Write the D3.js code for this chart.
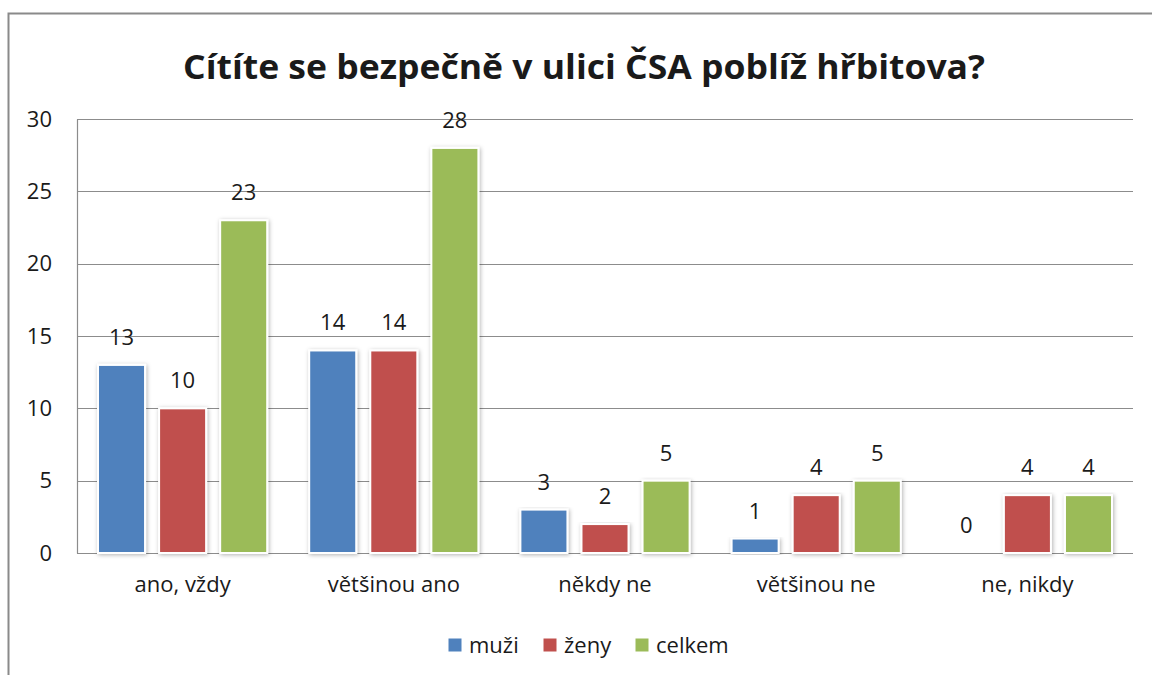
<!DOCTYPE html>
<html>
<head>
<meta charset="utf-8">
<script src="https://cdn.jsdelivr.net/npm/d3@7"></script>
<style>
  body { margin: 0; background: #fff; }
  text { font-family: "Open Sans", Lato, sans-serif; fill: #1a1a1a; }
</style>
</head>
<body>
<div id="chart"></div>
<script>
// odpovědi a série
let categories = ["ano, vždy", "většinou ano", "někdy ne", "většinou ne", "ne, nikdy"]
let seriesNames = ["muži", "ženy", "celkem"]
let muzi = [13, 14, 3, 1, 0]
let zeny = [10, 14, 2, 4, 4]
let celkem = [23, 28, 5, 5, 4]
let yTicks = [0, 5, 10, 15, 20, 25, 30]
let colors = ["#4F81BD", "#C0504D", "#9BBB59"]

let W = 1152, H = 675
let margin = {top: 119, bottom: 122, left: 77, right: 19}
let width = W - margin.left - margin.right
let height = H - margin.top - margin.bottom

let svgRoot = d3.select('#chart')
    .append('svg')
    .attr("width", W)
    .attr("height", H)

// outer frame
svgRoot.append("rect")
    .attr("x", 8.5).attr("y", 13.5)
    .attr("width", W + 10).attr("height", H + 10)
    .attr("fill", "none")
    .attr("stroke", "#8a8a8a")
    .attr("stroke-width", 2)

svgRoot.append("text")
    .attr("x", 584).attr("y", 79)
    .attr("text-anchor", "middle")
    .style("font-size", "34px")
    .style("font-weight", "bold")
    .attr("textLength", 802)
    .attr("lengthAdjust", "spacingAndGlyphs")
    .text("Cítíte se bezpečně v ulici ČSA poblíž hřbitova?")

let defs = svgRoot.append("defs")
let f = defs.append("filter").attr("id", "shadow")
    .attr("x", "-20%").attr("y", "-5%").attr("width", "140%").attr("height", "115%")
f.append("feDropShadow").attr("dx", 1).attr("dy", 1).attr("stdDeviation", 2)
    .attr("flood-color", "#000").attr("flood-opacity", 0.3)

let svg = svgRoot.append("g")
    .attr("transform", `translate(${margin.left},${margin.top})`)

let x = d3.scaleBand().domain(categories).range([0, width]).paddingInner(0).paddingOuter(0)
let xs = d3.scaleBand().domain(seriesNames).range([21, x.bandwidth() - 21]).paddingInner(0.23)
let y = d3.scaleLinear().domain([0, 30]).range([height, 0])

// gridlines
svg.selectAll(".grid")
    .data(yTicks)
    .enter().append("line")
    .attr("x1", 0).attr("x2", width)
    .attr("y1", d => Math.round(y(d)) + 0.5).attr("y2", d => Math.round(y(d)) + 0.5)
    .attr("stroke", "#8c8c8c")
    .attr("stroke-width", 1.2)

// y axis
let yAxis = svg.append("g")
    .call(d3.axisLeft(y).tickValues(yTicks).tickSize(0).tickPadding(25))
yAxis.select(".domain").attr("stroke", "#8c8c8c").attr("stroke-width", 1.2)
yAxis.selectAll("text").style("font-size", "22px").attr("fill", "#1a1a1a")

// x axis
let xAxis = svg.append("g")
    .attr("transform", `translate(0,${height})`)
    .call(d3.axisBottom(x).tickSize(0).tickPadding(23))
xAxis.select(".domain").remove()
xAxis.selectAll("text").style("font-size", "22px").attr("fill", "#1a1a1a")

let rows = categories.map((c, i) => ({cat: c, vals: [muzi[i], zeny[i], celkem[i]]}))

let groups = svg.selectAll(".grp")
    .data(rows)
    .enter().append("g")
    .attr("transform", d => `translate(${x(d.cat)},0)`)

groups.selectAll("rect")
    .data(d => d.vals.map((v, j) => ({name: seriesNames[j], v: v, j: j})))
    .enter().append("rect")
    .filter(d => d.v > 0)
    .attr("x", d => xs(d.name))
    .attr("y", d => y(d.v))
    .attr("width", xs.bandwidth())
    .attr("height", d => height - y(d.v))
    .attr("fill", d => colors[d.j])
    .attr("stroke", "#fff")
    .attr("stroke-width", 2)
    .attr("filter", "url(#shadow)")

groups.selectAll(".lbl")
    .data(d => d.vals.map((v, j) => ({name: seriesNames[j], v: v})))
    .enter().append("text")
    .attr("x", d => xs(d.name) + xs.bandwidth() / 2)
    .attr("y", d => y(d.v) - 20)
    .attr("text-anchor", "middle")
    .style("font-size", "22px")
    .text(d => d.v)

// legend
let legend = svgRoot.append("g").attr("transform", "translate(448,645)")
let lx = [0, 95, 187]
seriesNames.forEach((s, i) => {
    legend.append("rect")
        .attr("x", lx[i]).attr("y", -7)
        .attr("width", 14).attr("height", 14)
        .attr("fill", colors[i])
        .attr("stroke", "#fff").attr("stroke-width", 1)
    legend.append("text")
        .attr("x", lx[i] + 21).attr("y", 8)
        .style("font-size", "22px")
        .text(s)
})
</script>
</body>
</html>
